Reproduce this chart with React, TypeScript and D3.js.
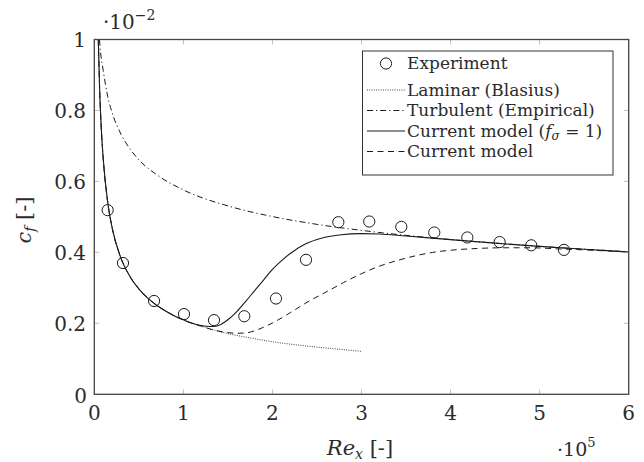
import React, { useEffect, useRef } from 'react';
import * as d3 from 'd3';

// x in units of 1e5 (Re_x), y in units of 1e-2 (c_f)
const experiment: [number, number][] = [
  [0.15, 0.519], [0.322, 0.37], [0.671, 0.263], [1.007, 0.226], [1.344, 0.209],
  [1.684, 0.22], [2.04, 0.27], [2.377, 0.379], [2.74, 0.485], [3.087, 0.487],
  [3.447, 0.472], [3.817, 0.456], [4.188, 0.442], [4.551, 0.429], [4.906, 0.42],
  [5.273, 0.407],
];

const laminar: [number, number][] = [
  [0.045, 0.99], [0.06, 0.857], [0.08, 0.742], [0.1, 0.664], [0.15, 0.542],
  [0.2, 0.47], [0.3, 0.383], [0.4, 0.332], [0.5, 0.297], [0.7, 0.251],
  [1.0, 0.21], [1.25, 0.188], [1.5, 0.171], [1.75, 0.159], [2.0, 0.148],
  [2.25, 0.14], [2.5, 0.133], [2.75, 0.127], [3.0, 0.121],
];

const turbulent: [number, number][] = [
  [0.058, 1.0], [0.07, 0.965], [0.1, 0.913], [0.15, 0.84], [0.2, 0.794],
  [0.3, 0.733], [0.4, 0.692], [0.5, 0.661], [0.7, 0.619], [1.0, 0.576],
  [1.5, 0.531], [2.0, 0.501], [2.5, 0.479], [3.0, 0.462], [3.5, 0.448],
  [4.0, 0.436], [4.5, 0.426], [5.0, 0.417], [5.5, 0.409], [6.0, 0.402],
];

const modelSigma: [number, number][] = [
  [0.045, 1.0], [0.06, 0.86], [0.08, 0.742], [0.1, 0.665], [0.15, 0.542],
  [0.2, 0.47], [0.3, 0.383], [0.4, 0.332], [0.5, 0.297], [0.6, 0.271],
  [0.7, 0.251], [0.8, 0.235], [0.9, 0.221], [1.0, 0.21], [1.1, 0.2],
  [1.2, 0.194], [1.3, 0.191], [1.36, 0.192], [1.42, 0.197], [1.5, 0.21],
  [1.6, 0.233], [1.7, 0.262], [1.8, 0.292], [1.9, 0.322], [2.0, 0.352],
  [2.1, 0.376], [2.2, 0.397], [2.38, 0.425], [2.55, 0.44], [2.75, 0.449],
  [3.0, 0.453], [3.2, 0.452], [3.5, 0.446], [4.0, 0.436], [4.5, 0.426],
  [5.0, 0.417], [5.5, 0.409], [6.0, 0.401],
];

const model: [number, number][] = [
  [0.045, 1.0], [0.06, 0.86], [0.08, 0.742], [0.1, 0.665], [0.15, 0.542],
  [0.2, 0.47], [0.3, 0.383], [0.4, 0.332], [0.5, 0.297], [0.6, 0.271],
  [0.7, 0.251], [0.8, 0.235], [0.9, 0.221], [1.0, 0.21], [1.1, 0.2],
  [1.2, 0.192], [1.3, 0.184], [1.4, 0.178], [1.5, 0.174], [1.6, 0.172],
  [1.7, 0.173], [1.8, 0.179], [1.9, 0.189], [2.0, 0.201], [2.2, 0.23],
  [2.4, 0.261], [2.6, 0.288], [2.8, 0.315], [3.0, 0.34], [3.2, 0.361],
  [3.4, 0.377], [3.6, 0.39], [3.8, 0.4], [4.0, 0.406], [4.3, 0.411],
  [4.6, 0.413], [4.9, 0.413], [5.2, 0.41], [5.5, 0.407], [6.0, 0.401],
];

const xTicks = [0, 1, 2, 3, 4, 5, 6];
const yTicks = [0, 0.2, 0.4, 0.6, 0.8, 1];

const legendItems = [
  { key: 'exp', label: 'Experiment' },
  { key: 'lam', label: 'Laminar (Blasius)' },
  { key: 'turb', label: 'Turbulent (Empirical)' },
  { key: 'sig', label: 'Current model' },
  { key: 'mod', label: 'Current model' },
];

const FONT = '"DejaVu Serif", "Liberation Serif", serif';
const INK = '#1a1a1a';
const TEXT = '#2b2b2b';

const App = () => {
  const svgRef = useRef<SVGSVGElement>(null);

  useEffect(() => {
    const svg = d3.select(svgRef.current);
    svg.selectAll('*').remove();

    const width = 644;
    const height = 462;
    const margin = { top: 39.5, right: 15.3, bottom: 67.7, left: 94.3 };

    const x = d3.scaleLinear().domain([0, 6]).range([margin.left, width - margin.right]);
    const y = d3.scaleLinear().domain([0, 1]).range([height - margin.bottom, margin.top]);

    const x0 = x.range()[0], x1 = x.range()[1];
    const y0 = y.range()[0], y1 = y.range()[1];

    // tick marks, inside, on all four sides
    const ticks = svg.append('g').attr('stroke', '#b0b0b0').attr('stroke-width', 0.8);
    xTicks.slice(1, -1).forEach(t => {
      ticks.append('line').attr('x1', x(t)).attr('x2', x(t)).attr('y1', y0).attr('y2', y0 - 5);
      ticks.append('line').attr('x1', x(t)).attr('x2', x(t)).attr('y1', y1).attr('y2', y1 + 5);
    });
    yTicks.slice(1, -1).forEach(t => {
      ticks.append('line').attr('x1', x0).attr('x2', x0 + 5).attr('y1', y(t)).attr('y2', y(t));
      ticks.append('line').attr('x1', x1).attr('x2', x1 - 5).attr('y1', y(t)).attr('y2', y(t));
    });

    const clip = svg.append('defs').append('clipPath').attr('id', 'plotclip');
    clip.append('rect').attr('x', x0).attr('y', y1).attr('width', x1 - x0).attr('height', y0 - y1);

    const line = d3.line<[number, number]>()
      .x(d => x(d[0]))
      .y(d => y(d[1]))
      .curve(d3.curveMonotoneX);

    const plot = svg.append('g').attr('clip-path', 'url(#plotclip)').attr('fill', 'none');

    plot.append('path').attr('d', line(laminar))
      .attr('stroke', INK).attr('stroke-width', 0.9).attr('stroke-dasharray', '0.9 1.4');
    plot.append('path').attr('d', line(turbulent))
      .attr('stroke', INK).attr('stroke-width', 1).attr('stroke-dasharray', '6 3 1.2 3');
    plot.append('path').attr('d', line(model))
      .attr('stroke', INK).attr('stroke-width', 1).attr('stroke-dasharray', '6 4.5');
    plot.append('path').attr('d', line(modelSigma))
      .attr('stroke', INK).attr('stroke-width', 1.1);

    svg.append('g')
      .selectAll('circle')
      .data(experiment)
      .join('circle')
      .attr('cx', d => x(d[0]))
      .attr('cy', d => y(d[1]))
      .attr('r', 5.6)
      .attr('fill', 'none')
      .attr('stroke', INK)
      .attr('stroke-width', 1);

    // frame
    svg.append('rect')
      .attr('x', x0).attr('y', y1).attr('width', x1 - x0).attr('height', y0 - y1)
      .attr('fill', 'none').attr('stroke', '#444').attr('stroke-width', 1.3);

    // tick labels
    const labels = svg.append('g').style('font-family', FONT).attr('font-size', 20).attr('fill', TEXT);
    xTicks.forEach(t => {
      labels.append('text').attr('x', x(t)).attr('y', 420).attr('text-anchor', 'middle').text(d3.format('d')(t));
    });
    yTicks.forEach(t => {
      labels.append('text').attr('x', t === 0 ? 87 : 86).attr('y', y(t) + (t === 0 ? 9 : 7.5))
        .attr('text-anchor', 'end').text(t === 0 || t === 1 ? String(t) : d3.format('.1f')(t));
    });

    // exponent markers
    const expTop = svg.append('text').style('font-family', FONT).attr('font-size', 20).attr('fill', TEXT)
      .attr('x', 103).attr('y', 29);
    expTop.append('tspan').text('\u00b710');
    expTop.append('tspan').attr('font-size', 14).attr('dy', -9).text('\u22122');

    const expBot = svg.append('text').style('font-family', FONT).attr('font-size', 19).attr('fill', TEXT)
      .attr('x', 557).attr('y', 456);
    expBot.append('tspan').text('\u00b710');
    expBot.append('tspan').attr('font-size', 13).attr('dy', -9).text('5');

    // axis titles
    const xt = svg.append('text').style('font-family', FONT).attr('font-size', 21).attr('fill', TEXT)
      .attr('x', 360).attr('y', 455).attr('text-anchor', 'middle');
    xt.append('tspan').attr('font-style', 'italic').text('Re');
    xt.append('tspan').attr('font-style', 'italic').attr('font-size', 14).attr('dy', 4).text('x');
    xt.append('tspan').attr('dy', -4).text(' [-]');

    const yt = svg.append('text').style('font-family', FONT).attr('font-size', 21).attr('fill', TEXT)
      .attr('transform', 'translate(31,220) rotate(-90)').attr('text-anchor', 'middle');
    yt.append('tspan').attr('font-style', 'italic').text('c');
    yt.append('tspan').attr('font-style', 'italic').attr('font-size', 14).attr('dy', 4).text('f');
    yt.append('tspan').attr('dy', -4).text(' [-]');

    // legend
    const lg = svg.append('g');
    lg.append('rect').attr('x', 362.5).attr('y', 51).attr('width', 250.5).attr('height', 124)
      .attr('fill', 'white').attr('stroke', '#333').attr('stroke-width', 1);
    const rowY = [63.5, 90, 110.5, 131, 151.5];
    const sx0 = 367, sx1 = 405, tx = 407;
    legendItems.forEach((item, i) => {
      const cy = rowY[i];
      if (item.key === 'exp') {
        lg.append('circle').attr('cx', (sx0 + sx1) / 2).attr('cy', cy).attr('r', 5.6)
          .attr('fill', 'none').attr('stroke', INK).attr('stroke-width', 1);
      } else {
        const dash = item.key === 'lam' ? '0.9 1.4' : item.key === 'turb' ? '6 3 1.2 3'
          : item.key === 'mod' ? '6 4.5' : null;
        const l = lg.append('line').attr('x1', sx0).attr('x2', sx1).attr('y1', cy).attr('y2', cy)
          .attr('stroke', INK).attr('stroke-width', item.key === 'lam' ? 0.9 : 1);
        if (dash) l.attr('stroke-dasharray', dash);
      }
      const t = lg.append('text').style('font-family', FONT).attr('font-size', 17).attr('fill', TEXT)
        .attr('x', tx).attr('y', cy + 5.5).text(item.label);
      if (item.key === 'sig') {
        t.append('tspan').text(' (');
        t.append('tspan').attr('font-style', 'italic').text('f');
        t.append('tspan').attr('font-style', 'italic').attr('font-size', 12).attr('dy', 3).text('\u03c3');
        t.append('tspan').attr('dy', -3).text(' = 1)');
      }
    });
  }, []);

  return (
    <div>
      <svg ref={svgRef} width={644} height={462}
        style={{ position: 'absolute', left: 0, top: 0, background: 'white' }}></svg>
    </div>
  );
};

export default App;
